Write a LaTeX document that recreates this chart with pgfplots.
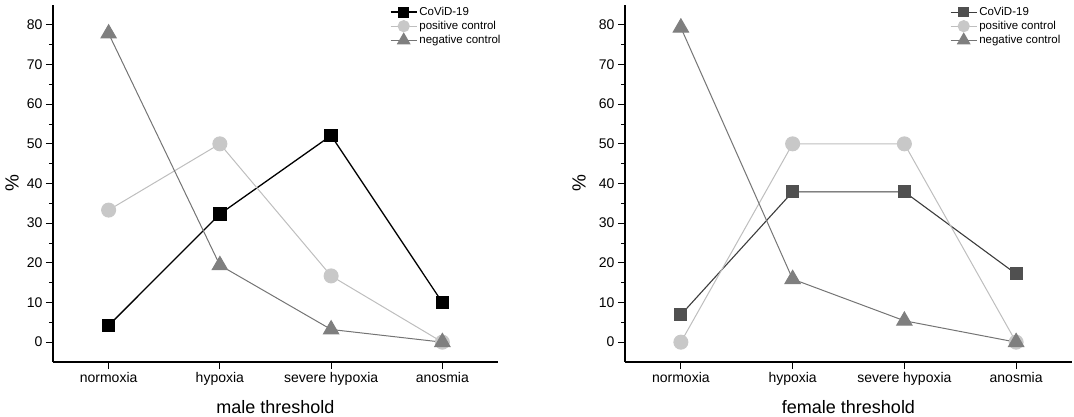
\documentclass[border=0pt]{standalone}
\usepackage{pgfplots}
\pgfplotsset{compat=1.18}
\usepackage{fontspec}
\setmainfont{Liberation Sans}
\definecolor{covA}{HTML}{000000}
\definecolor{covB}{HTML}{505050}
\definecolor{covBline}{HTML}{3C3C3C}
\definecolor{posc}{HTML}{C8C8C8}
\definecolor{poscline}{HTML}{BEBEBE}
\definecolor{negc}{HTML}{7F7F7F}
\definecolor{negcline}{HTML}{747474}
\pgfplotsset{
  myaxis/.style={
    scale only axis,
    height=357pt,
    xmin=-0.5, xmax=3.5,
    ymin=-5, ymax=85,
    axis lines=left,
    axis line style={-, line width=1.2pt, black},
    tick align=outside,
    major tick length=7pt,
    minor tick length=4pt,
    every tick/.style={black, line width=1pt},
    xtick={0,1,2,3},
    xticklabels={normoxia,hypoxia,severe hypoxia,anosmia},
    ytick={0,10,20,30,40,50,60,70,80},
    minor y tick num=1,
    /pgf/number format/assume math mode=true,
    tick label style={font=\fontsize{14}{16}\selectfont},
    label style={font=\fontsize{18}{20}\selectfont},
    ylabel={\%},
    ylabel style={font=\fontsize{19}{21}\selectfont},
    clip=false,
    legend cell align=left,
    legend style={draw=none, fill=none, font=\fontsize{11.5}{13}\selectfont,
      anchor=north west, inner sep=0pt, row sep=0.2pt,
      /tikz/every even column/.append style={column sep=2pt}},
    legend image code/.code={\draw[mark repeat=2,mark phase=2,#1,every mark/.append style={scale=0.8}] plot coordinates {(0pt,0pt)(13pt,0pt)(26pt,0pt)};},
  },
  posstyle/.style={color=poscline, line width=1pt, mark=*, mark size=7pt,
    mark options={fill=posc, draw=posc}},
  negstyle/.style={color=negcline, line width=1pt, mark=triangle*, mark size=8.8pt,
    mark options={fill=negc, draw=negc}},
}
\begin{document}
\begin{tikzpicture}
\useasboundingbox (0,0) rectangle (1074pt,416pt);
\begin{axis}[myaxis,
  at={(53pt,54pt)}, anchor=south west, width=445pt,
  xlabel={male threshold},
  xlabel style={at={(axis description cs:0.5,-0.126)}, anchor=center},
  ylabel style={at={(axis description cs:-0.092,0.5)}, anchor=center},
  legend style={at={(axis description cs:0.757,1.0)}},
]
\addplot[color=covA, line width=1.3pt, mark=square*, mark size=6pt,
  mark options={fill=covA, draw=covA}]
  coordinates {(0,4.2) (1,32.3) (2,52.1) (3,10.0)};
\addlegendentry{CoViD-19}
\addplot[posstyle] coordinates {(0,33.3) (1,50.0) (2,16.7) (3,0)};
\addlegendentry{positive control}
\addplot[negstyle] coordinates {(0,77.8) (1,19.4) (2,3.2) (3,0)};
\addlegendentry{negative control}
\end{axis}
\begin{axis}[myaxis,
  at={(625pt,54pt)}, anchor=south west, width=447pt,
  xlabel={female threshold},
  xlabel style={at={(axis description cs:0.5,-0.126)}, anchor=center},
  ylabel style={at={(axis description cs:-0.103,0.5)}, anchor=center},
  legend style={at={(axis description cs:0.727,1.0)}},
]
\addplot[color=covBline, line width=1.1pt, mark=square*, mark size=6pt,
  mark options={fill=covB, draw=covB}]
  coordinates {(0,6.9) (1,37.9) (2,37.9) (3,17.2)};
\addlegendentry{CoViD-19}
\addplot[posstyle] coordinates {(0,0) (1,50.0) (2,50.0) (3,0)};
\addlegendentry{positive control}
\addplot[negstyle] coordinates {(0,79.3) (1,15.9) (2,5.4) (3,0)};
\addlegendentry{negative control}
\end{axis}
\end{tikzpicture}
\end{document}
